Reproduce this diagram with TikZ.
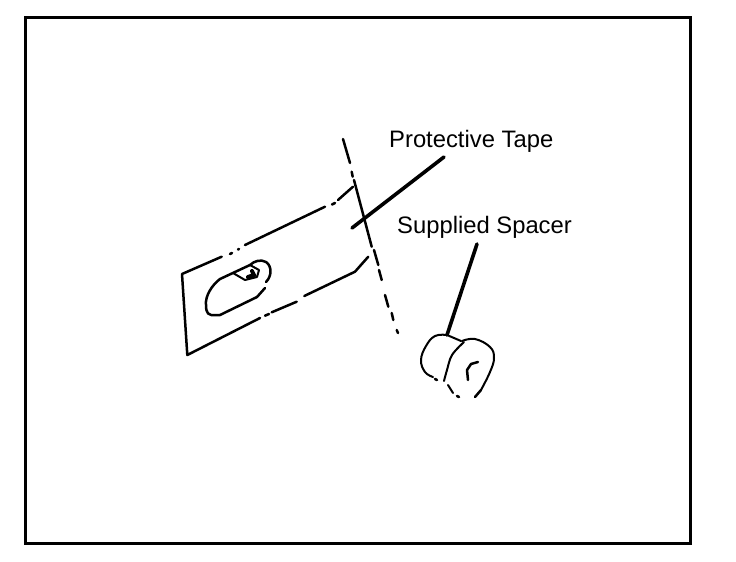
\documentclass[tikz,border=0pt]{standalone}
\usepackage{fontspec}
\setmainfont{Liberation Sans}
\tikzset{
  sk/.style={line width=2.5pt,line cap=round,line join=round},
  thin sk/.style={line width=2pt,line cap=round,line join=round},
  leader/.style={line width=3.6pt,line cap=round},
  lab/.style={inner sep=0pt,anchor=base west,font=\fontsize{23.8}{26}\selectfont}
}
\begin{document}
\begin{tikzpicture}[x=1pt,y=-1pt]
\useasboundingbox (0,0) rectangle (736,562);
\node[draw,line width=3pt,outer sep=0pt,minimum width=665pt,minimum height=526pt,inner sep=0pt,anchor=north west] (frame) at (25,17) {};
\node[lab] (tape) at (389,147) {Protective Tape};
\node[lab] (spacer) at (397,233) {Supplied Spacer};
\coordinate (tapeEnd) at (352,228);
\coordinate (tapeStart) at (444,157);
\coordinate (spStart) at (477,244);
\coordinate (spEnd) at (447,335);
\draw[leader] (tapeStart) -- (tapeEnd);
\draw[leader] (spStart) -- (spEnd);
% cut line
\draw[sk] (343,139)--(350,163) (351.7,171.7)--(352.7,176.7) (354,180)--(371.7,246.7)
  (374,250)--(378.3,265) (379,270)--(381.7,280) (385,295)--(388.3,306.7)
  (391.7,313)--(393.3,320) (396.7,330)--(398,333);
% tape outline
\draw[sk] (221.7,256.7)--(182,274)--(187.3,355)--(260,318)
  (265,315.7)--(269,314) (271.7,312.3)--(296.7,301.7)
  (304.3,296)--(355,271.7)--(368.3,256.7);
\draw[sk] (230,254)--(232,253) (238,249.5)--(239,249) (245,245)--(325,206.7)
  (332,204.5)--(335,203) (338,200)--(353,186.7);
% slot
\draw[sk] (266,282) .. controls (272,276) and (272,266) .. (266,262)
  .. controls (261,259) and (254,261) .. (250,265) -- (220,279)
  .. controls (212,285) and (205,296) .. (206,305)
  .. controls (206,313) and (208,316) .. (216,315) -- (220,315) -- (257,297) -- (265,288);
\draw[thin sk] (233,273)--(245,280)--(257,277)--(259,270)--(250,265);
\draw[line width=4pt,line cap=round] (248,277)--(254,275)--(252,271);
% spacer
\draw[thin sk] plot[smooth,tension=0.7] coordinates {(447,335) (435,336) (426,346) (421,360) (425,372) (433,377)};
\draw[sk] (435,379)--(437,380);
\draw[thin sk] (447,335)--(461,341);
\draw[thin sk] plot[smooth,tension=0.6] coordinates {(464,342) (452,355) (447,370) (444,381)};
\draw[thin sk] (448,385)--(453,393);
\draw[sk] (457,396)--(459,397);
\draw[sk] (475,397)--(481,390);
\draw[thin sk] plot[smooth,tension=0.7] coordinates {(481,390) (490,372) (494,358) (490,347) (475,339) (462,341)};
\draw[sk] (478,362) -- (471,364) -- (467,370) -- (468,380);
\end{tikzpicture}
\end{document}
